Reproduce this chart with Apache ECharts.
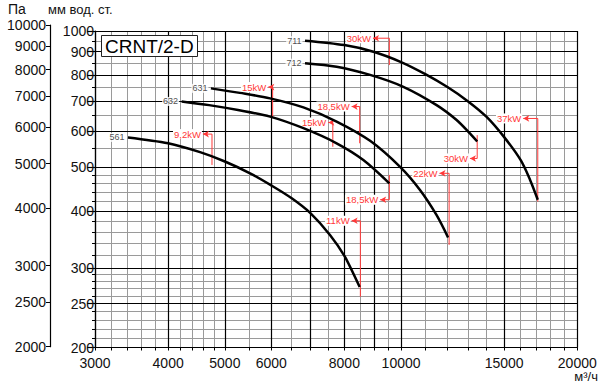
<!DOCTYPE html>
<html><head><meta charset="utf-8">
<script src="https://cdn.jsdelivr.net/npm/echarts@6/dist/echarts.min.js"></script>
<style>html,body{margin:0;padding:0;background:#fff}#c{width:600px;height:385px}</style>
</head><body><div id="c"></div>
<script>
// grid / tick values
const xMajor = [3000,4000,5000,6000,7000,8000,9000,10000,15000,20000];
const xMinor = [3200,3400,3600,3800,4200,4400,4600,4800,5500,6500,7500,8500,9500,11000,12000,13000,14000,16000,17000,18000,19000];
const xLabels = [3000,4000,5000,6000,8000,10000,15000,20000];
const yMajor = [200,250,300,400,500,600,700,800,900,1000];
const yMinor = [210,220,230,240,260,270,280,290,320,340,360,380,420,440,460,480,550,650,750,850,950];
const paLabels = [2000,2500,3000,4000,5000,6000,7000,8000,9000,10000];

// fan curves (flow m3/h, pressure mm w.c.)
const curveNames = ['561','632','631','712','711'];
const flow561 = [3415,4000,4535,5000,5521,6000,6504,7000,7566,8020,8497];
const pres561 = [582,565,540,515,485,456,427,396,354,317,272];
const flow632 = [4218,4700,5265,5973,6810,7760,8620,9549];
const pres632 = [699,686,669,647,610,565,519,461];
const flow631 = [4733,5304,5973,6810,7760,8852,9961,10780,11500,12030];
const pres631 = [747,730,710,678,631,572,501,445,392,350];
const flow712 = [6853,7760,8852,10090,11500,12440,13110,13490];
const pres712 = [849,834,800,753,686,636,594,570];
const flow711 = [6853,8000,9000,10000,11000,12000,13000,14000,15000,16000,16610,17120];
const pres711 = [952,931,899,854,803,752,700,646,583,519,469,424];

// motor power marks
const powerText   = ['9,2kW','15kW','15kW','18,5kW','18,5kW','11kW','22kW','30kW','30kW','37kW'];
const powerArrowX = [4586,5932,7510,8232,9210,8232,11630,8955,13110,16170];
const powerLineX  = [4753,6034,7645,8497,9549,8520,12080,9549,13490,17120];
const powerLabelY = [592,752,628,681,424,381,485,964,523,641];
const powerEndY   = [506,642,555,565,481,259,337,841,589,420];

const FONT = 'Liberation Sans, Arial, sans-serif';
const RED = '#ff3838';
const curves = [[flow561,pres561],[flow632,pres632],[flow631,pres631],[flow712,pres712],[flow711,pres711]];

const series = [];
curves.forEach((c, i) => {
  series.push({
    type: 'line', xAxisIndex: 0, yAxisIndex: 0, smooth: 0.3, z: 5,
    symbol: 'none', silent: true,
    lineStyle: {color: '#000', width: 2.5},
    data: c[0].map((x, k) => [x, c[1][k]])
  });
  series.push({
    type: 'scatter', xAxisIndex: 0, yAxisIndex: 0, z: 6, silent: true,
    symbolSize: 1, itemStyle: {color: 'rgba(0,0,0,0)'},
    label: {show: true, position: 'left', distance: 2, formatter: curveNames[i],
      fontSize: 9, fontFamily: FONT, color: '#222', backgroundColor: '#fff', padding: [0, 1]},
    data: [[c[0][0], c[1][0]]]
  });
});
powerText.forEach((t, i) => {
  series.push({
    type: 'line', xAxisIndex: 0, yAxisIndex: 0, z: 4, silent: true,
    symbol: 'none', showSymbol: true,
    lineStyle: {color: RED, width: 1},
    itemStyle: {color: RED},
    data: [
      {value: [powerArrowX[i], powerLabelY[i]], symbol: 'arrow', symbolSize: [5, 6], symbolRotate: 90,
       label: {show: true, position: 'left', distance: 1, formatter: t, color: RED,
         fontSize: 9.5, fontFamily: FONT, backgroundColor: '#fff', padding: [0, 1]}},
      [powerLineX[i], powerLabelY[i]],
      [powerLineX[i], powerEndY[i]]
    ]
  });
});

const chart = echarts.init(document.getElementById('c'), null, {renderer: 'svg'});
chart.setOption({
  animation: false,
  backgroundColor: '#fff',
  title: {text: 'CRNT/2-D', left: 101, top: 35, padding: [2, 4, 1, 4], borderColor: '#222', borderWidth: 1,
    backgroundColor: '#fff', z: 10,
    textStyle: {fontSize: 19, fontWeight: 'normal', color: '#000', fontFamily: FONT}},
  grid: [
    {left: 95, right: 22.7, top: 31, bottom: 37.5},
    {left: 50, width: 1, top: 25, bottom: 38.3}
  ],
  xAxis: [
    {type: 'log', logBase: 10, min: 3000, max: 20000, gridIndex: 0, position: 'bottom', z: 2,
      axisLine: {show: true, lineStyle: {color: '#000', width: 1.2}},
      axisTick: {show: true, customValues: xMajor, length: 3, lineStyle: {color: '#000'}},
      axisLabel: {customValues: xLabels, margin: 8, fontSize: 14, color: '#111', fontFamily: FONT,
        formatter: v => String(Math.round(v))},
      splitLine: {show: true, lineStyle: {color: '#000', width: 1.2}}},
    {type: 'log', logBase: 10, min: 3000, max: 20000, gridIndex: 0, position: 'bottom', z: 1,
      axisLine: {show: false},
      axisTick: {show: true, customValues: xMinor, length: 3, lineStyle: {color: '#000'}},
      axisLabel: {show: false},
      splitLine: {show: true, lineStyle: {color: '#9a9a9a', width: 1}}},
    {type: 'value', gridIndex: 1, show: false, min: 0, max: 1}
  ],
  yAxis: [
    {type: 'log', logBase: 10, min: 200, max: 1000, gridIndex: 0, position: 'left', z: 2,
      axisLine: {show: true, lineStyle: {color: '#000', width: 1.2}},
      axisTick: {show: true, customValues: yMajor, length: 8, lineStyle: {color: '#000', width: 1.2}},
      axisLabel: {customValues: yMajor, margin: 1, fontSize: 14, color: '#111', fontFamily: FONT,
        formatter: v => String(Math.round(v))},
      splitLine: {show: true, lineStyle: {color: '#000', width: 1.2}}},
    {type: 'log', logBase: 10, min: 200, max: 1000, gridIndex: 0, position: 'left', z: 1,
      axisLine: {show: false},
      axisTick: {show: true, customValues: yMinor, length: 3, lineStyle: {color: '#000'}},
      axisLabel: {show: false},
      splitLine: {show: true, lineStyle: {color: '#9a9a9a', width: 1}}},
    {type: 'log', logBase: 10, min: 2000, max: 10000, gridIndex: 1, position: 'left',
      axisLine: {show: true, lineStyle: {color: '#000', width: 1.2}},
      axisTick: {show: true, customValues: paLabels, length: 4, lineStyle: {color: '#000'}},
      axisLabel: {customValues: paLabels, margin: 4, fontSize: 14, color: '#111', fontFamily: FONT,
        formatter: v => String(Math.round(v))},
      splitLine: {show: false}}
  ],
  graphic: [
    {type: 'text', left: 8, top: 2, style: {text: 'Па', fontSize: 14, fontFamily: FONT, fill: '#111'}},
    {type: 'text', left: 48, top: 3, style: {text: 'мм вод. ст.', fontSize: 13, fontFamily: FONT, fill: '#111'}},
    {type: 'text', right: 2, top: 370, style: {text: 'м³/ч', fontSize: 13, fontFamily: FONT, fill: '#111'}}
  ],
  series: series
});
</script>
</body></html>
